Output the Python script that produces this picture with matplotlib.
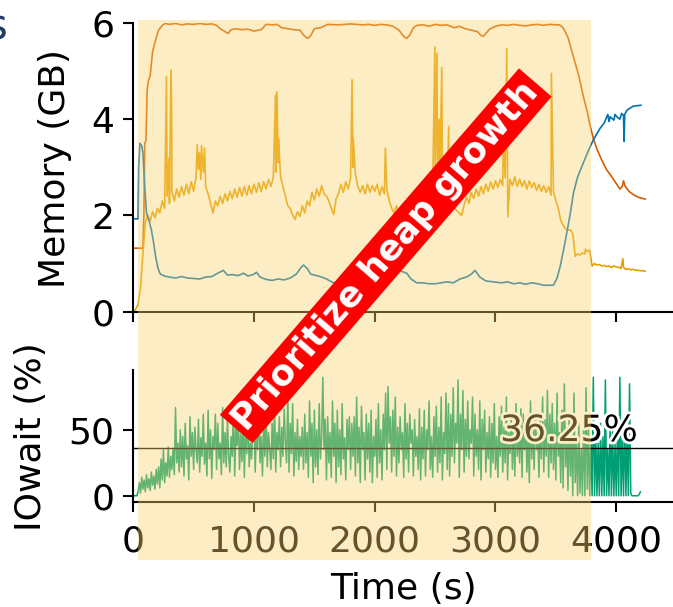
import numpy as np
import matplotlib
matplotlib.use("Agg")
import matplotlib.pyplot as plt
from matplotlib.patches import Rectangle
from matplotlib.transforms import blended_transform_factory
import matplotlib.patheffects as pe

# ---------------- data ----------------
# Total heap (vermillion)
heap_time = [0, 80, 88, 95, 105, 115, 125, 140, 160, 185, 210, 240, 265, 300, 350, 400, 450, 500,
             550, 600, 650, 690, 720, 760, 785, 810, 850, 900, 950, 1000, 1060, 1100, 1150, 1190,
             1230, 1280, 1330, 1380, 1420, 1447, 1470, 1500, 1550, 1610, 1700, 1800, 1900, 1950,
             2000, 2050, 2100, 2150, 2200, 2240, 2265, 2290, 2320, 2350, 2400, 2450, 2500, 2550,
             2600, 2660, 2700, 2750, 2800, 2850, 2880, 2898, 2920, 2950, 3000, 3050, 3100, 3150,
             3200, 3250, 3300, 3350, 3400, 3450, 3500, 3530, 3560, 3600, 3645, 3690, 3725, 3760,
             3785, 3810, 3840, 3880, 3920, 3950, 3990, 4030, 4050, 4060, 4075, 4100, 4115, 4150,
             4180, 4210, 4240]
heap_gb = [1.32, 1.32, 2.0, 3.5, 3.55, 4.6, 4.8, 4.9, 5.4, 5.65, 5.85, 5.95, 5.99, 5.97, 5.99, 5.96,
           5.98, 5.97, 5.99, 5.97, 5.98, 5.95, 5.88, 5.82, 5.78, 5.86, 5.88, 5.86, 5.87, 5.83, 5.86,
           5.97, 5.96, 5.97, 5.9, 5.88, 5.86, 5.85, 5.72, 5.68, 5.74, 5.88, 5.9, 5.97, 5.96, 5.98,
           5.96, 5.97, 5.95, 5.97, 5.96, 5.93, 5.85, 5.72, 5.68, 5.75, 5.9, 5.95, 5.96, 5.93, 5.97,
           5.95, 5.96, 5.9, 5.93, 5.88, 5.85, 5.82, 5.74, 5.72, 5.78, 5.87, 5.93, 5.96, 5.95, 5.97,
           5.95, 5.94, 5.96, 5.97, 5.95, 5.97, 5.96, 5.96, 5.9, 5.7, 5.3, 4.9, 4.5, 4.15, 3.85, 3.6,
           3.38, 3.15, 2.95, 2.85, 2.7, 2.55, 2.6, 2.72, 2.6, 2.52, 2.48, 2.42, 2.38, 2.36, 2.34]

# Cache / free memory (blue)
cache_time = [0, 40, 45, 55, 70, 80, 95, 110, 130, 150, 165, 185, 205, 225, 260, 300, 350, 400, 450,
              500, 550, 600, 650, 700, 745, 780, 820, 870, 914, 950, 1000, 1020, 1050, 1100, 1150,
              1200, 1250, 1300, 1350, 1390, 1410, 1440, 1470, 1520, 1560, 1600, 1657, 1700, 1750,
              1800, 1850, 1900, 1950, 2000, 2050, 2100, 2150, 2210, 2265, 2300, 2348, 2400, 2450,
              2500, 2550, 2596, 2650, 2706, 2760, 2800, 2830, 2870, 2920, 2980, 3050, 3100, 3150,
              3200, 3250, 3300, 3350, 3395, 3440, 3480, 3510, 3535, 3565, 3590, 3620, 3645, 3680,
              3725, 3770, 3810, 3840, 3866, 3900, 3930, 3940, 3950, 3980, 3990, 4005, 4030, 4045,
              4060, 4065, 4070, 4090, 4115, 4140, 4170, 4204]
cache_gb = [1.93, 1.93, 3.0, 3.5, 3.45, 3.3, 2.6, 2.05, 1.9, 1.7, 1.49, 1.15, 0.9, 0.78, 0.74, 0.72,
            0.7, 0.73, 0.7, 0.69, 0.68, 0.72, 0.73, 0.8, 0.86, 0.76, 0.77, 0.75, 0.8, 0.74, 0.78,
            0.82, 0.72, 0.67, 0.65, 0.68, 0.66, 0.7, 0.78, 0.92, 0.97, 0.9, 0.78, 0.75, 0.72, 0.68,
            0.6, 0.62, 0.62, 0.62, 0.66, 0.7, 0.65, 0.6, 0.62, 0.7, 0.78, 0.85, 0.8, 0.68, 0.6, 0.6,
            0.58, 0.58, 0.6, 0.62, 0.6, 0.68, 0.72, 0.78, 0.86, 0.72, 0.64, 0.62, 0.6, 0.62, 0.58,
            0.6, 0.57, 0.6, 0.58, 0.55, 0.55, 0.55, 0.7, 0.93, 1.3, 1.63, 2.05, 2.46, 2.8, 3.08,
            3.35, 3.57, 3.7, 3.81, 3.92, 4.1, 3.95, 4.05, 3.98, 4.1, 4.05, 4.0, 4.12, 4.08, 3.54,
            4.1, 4.19, 4.23, 4.27, 4.28, 4.29]

# Used memory (gold), sampled every 20 s
used_step = 20
used_gb = [
    0.0, 0.05, 0.15, 0.5, 1.2, 1.85, 2.0, 1.88, 2.08, 1.95,         # 0-180
    2.15, 2.05, 2.3, 2.15, 2.4, 2.25, 2.5, 2.3, 2.55, 2.38,         # 200-380
    2.6, 2.42, 2.65, 2.45, 2.7, 2.5, 2.8, 2.95, 2.75, 2.9,          # 400-580
    2.6, 2.45, 2.25, 2.05, 2.3, 2.2, 2.4, 2.25, 2.45, 2.3,          # 600-780
    2.5, 2.35, 2.55, 2.38, 2.58, 2.4, 2.6, 2.42, 2.62, 2.45,        # 800-980
    2.65, 2.48, 2.68, 2.5, 2.7, 2.55, 2.75, 2.6, 2.8, 2.9,          # 1000-1180
    3.1, 2.8, 2.6, 2.4, 2.2, 2.15, 2.0, 1.92, 2.08, 1.98,           # 1200-1380
    2.2, 2.05, 2.3, 2.2, 2.48, 2.32, 2.55, 2.4, 2.62, 2.45,         # 1400-1580
    2.4, 2.3, 2.15, 2.02, 2.35, 2.45, 2.65, 2.48, 2.7, 2.55,        # 1600-1780
    2.78, 3.0, 2.85, 2.6, 2.48, 2.62, 2.45, 2.65, 2.48, 2.62,       # 1800-1980
    2.5, 2.65, 2.42, 2.6, 2.45, 2.55, 2.3, 2.15, 2.05, 2.2,         # 2000-2180
    2.05, 2.15, 1.98, 2.15, 2.2, 2.38, 2.25, 2.45, 2.32, 2.5,       # 2200-2380
    2.4, 2.6, 2.45, 2.65, 2.55, 2.75, 2.9, 2.78, 2.95, 2.7,         # 2400-2580
    2.5, 2.35, 2.25, 2.15, 2.1, 2.05, 2.0, 2.22, 2.38, 2.25,        # 2600-2780
    2.48, 2.35, 2.55, 2.4, 2.6, 2.45, 2.65, 2.5, 2.7, 2.55,         # 2800-2980
    2.72, 2.58, 2.75, 2.62, 2.78, 2.6, 2.75, 2.62, 2.8, 2.6,        # 3000-3180
    2.75, 2.6, 2.72, 2.55, 2.72, 2.58, 2.68, 2.52, 2.65, 2.5,       # 3200-3380
    2.62, 2.48, 2.6, 2.42, 2.5, 2.3, 2.15, 1.9, 1.8, 1.72,          # 3400-3580
    1.7, 1.7, 1.62, 1.15, 1.2, 1.18, 1.22, 1.2, 1.25, 1.28,         # 3600-3780
    0.95, 1.0, 0.97, 0.98, 0.95, 0.96, 0.94, 0.95, 0.92, 0.95,      # 3800-3980
    0.93, 0.92, 0.9, 0.92, 0.88, 0.89, 0.87, 0.88, 0.86, 0.86,      # 4000-4180
    0.85, 0.85, 0.84,                                               # 4200-4240
]
used_spike_time = [275, 297, 312, 318, 530, 548, 565, 590, 1178, 1190, 1203, 1812, 1822, 2088,
                   2498, 2515, 2533, 2555, 2612, 3065, 3093, 3102, 3463, 3745, 4055]
used_spike_gb = [4.88, 3.2, 5.02, 4.3, 3.47, 3.3, 3.45, 3.4, 4.5, 4.57, 3.6, 4.82, 3.6, 3.4,
                 5.5, 5.37, 4.0, 5.07, 3.85, 3.64, 5.47, 1.97, 4.95, 1.3, 1.1]

# IOwait (%) sampled every 10 s
iowait_step = 10
iowait_pct = [
    0, 0, 0, 0, 3, 10, 2, 14, 5, 12, 3, 16, 6, 13, 4, 18, 8, 15, 5, 20,            # 0-190
    9, 22, 6, 28, 12, 35, 10, 25, 15, 37, 14, 30, 20, 36, 16, 67, 25, 40, 18, 50,    # 200-390
    22, 45, 15, 55, 28, 38, 12, 60, 30, 48, 20, 52, 35, 25, 58, 18, 44, 30, 62, 24,  # 400-590
    40, 15, 65, 28, 50, 13, 45, 35, 62, 20, 55, 28, 40, 16, 67, 25, 48, 22, 58, 30,  # 600-790
    18, 45, 30, 70, 15, 52, 38, 64, 20, 47, 26, 60, 14, 55, 32, 68, 22, 40, 28, 50,  # 800-990
    62, 18, 50, 35, 72, 25, 45, 15, 58, 30, 64, 22, 48, 36, 20, 55, 28, 70, 18, 48,  # 1000-1190
    35, 60, 22, 52, 30, 66, 40, 25, 78, 18, 55, 32, 70, 15, 48, 26, 58, 20, 45, 30,  # 1200-1390
    52, 20, 62, 25, 48, 14, 72, 30, 55, 10, 65, 22, 50, 16, 70, 28, 44, 90, 35, 58,  # 1400-1590
    12, 60, 25, 48, 14, 72, 30, 55, 10, 65, 22, 50, 16, 70, 28, 44, 12, 58, 35, 60,  # 1600-1790
    20, 55, 30, 60, 15, 75, 25, 52, 10, 68, 35, 48, 12, 62, 28, 55, 18, 65, 10, 45,  # 1800-1990
    30, 58, 14, 70, 25, 50, 12, 62, 35, 78, 20, 83, 40, 60, 18, 65, 30, 75, 15, 52,  # 2000-2190
    25, 60, 35, 48, 14, 70, 28, 55, 18, 62, 40, 50, 15, 58, 30, 45, 20, 66, 12, 52,  # 2200-2390
    28, 65, 15, 50, 35, 72, 20, 45, 14, 60, 30, 68, 18, 52, 25, 75, 12, 48, 32, 78,  # 2400-2590
    20, 70, 15, 62, 30, 82, 25, 55, 40, 88, 14, 62, 35, 80, 18, 58, 30, 72, 28, 50,  # 2600-2790
    40, 75, 15, 62, 30, 50, 20, 72, 12, 58, 35, 65, 18, 48, 28, 60, 14, 55, 25, 70,  # 2800-2990
    20, 45, 14, 60, 30, 68, 18, 52, 25, 75, 12, 48, 32, 62, 20, 55, 15, 70, 30, 48,  # 3000-3190
    25, 66, 14, 62, 35, 58, 18, 50, 10, 72, 28, 55, 20, 62, 35, 48, 14, 60, 28, 75,  # 3200-3390
    18, 58, 30, 80, 14, 62, 25, 70, 20, 55, 12, 78, 30, 48, 10, 65, 6, 85, 22, 50,   # 3400-3590
    4, 60, 15, 45, 0, 78, 10, 40, 0, 55, 2, 35, 0, 60, 0, 82, 5, 50, 0, 45,          # 3600-3790
    0, 90, 0, 50, 0, 40, 0, 55, 0, 45, 0, 88, 0, 35, 0, 60, 0, 50, 0, 40,           # 3800-3990
    0, 55, 0, 90, 0, 45, 0, 60, 0, 50, 0, 85, 2, 0, 0, 0, 0, 0, 0, 1,               # 4000-4190
    3,                                                                              # 4200
]
iowait_mean = 36.25

mem_yticks = [0, 2, 4, 6]
io_yticks = [0, 50]
time_ticks = [0, 1000, 2000, 3000, 4000]
phase_start, phase_end = 36, 3790
banner_text = "Prioritize heap growth"

# ---------------- style ----------------
plt.rcParams["font.family"] = ["DejaVu Sans"]
plt.rcParams["font.size"] = 26

C_HEAP = "#D55E00"
C_USED = "#E69F00"
C_CACHE = "#0072B2"
C_IO = "#009E73"

fig = plt.figure(figsize=(6.73, 6.07), dpi=100)
ax1 = fig.add_axes([0.198, 0.4865, 0.802, 0.4757])
ax2 = fig.add_axes([0.198, 0.1735, 0.802, 0.2169])

# top panel
used_time = np.arange(len(used_gb)) * used_step
ut = np.concatenate([used_time, used_spike_time])
uv = np.concatenate([used_gb, used_spike_gb])
order = np.argsort(ut, kind="stable")
ax1.plot(heap_time, heap_gb, color=C_HEAP, lw=1.2)
ax1.plot(ut[order], uv[order], color=C_USED, lw=1.2)
ax1.plot(cache_time, cache_gb, color=C_CACHE, lw=1.2)
ax1.set_ylim(0, 6.0)
ax1.set_xlim(0, 4470)
ax1.set_yticks(mem_yticks)
ax1.set_xticks(time_ticks)
ax1.set_xticklabels([])
ax1.set_ylabel("Memory (GB)")

# bottom panel
io_time = np.arange(len(iowait_pct)) * iowait_step
ax2.plot(io_time, iowait_pct, color=C_IO, lw=1.1)
ax2.axhline(iowait_mean, color="black", lw=1.0)
ax2.text(io_time[-1] - 20, iowait_mean, f"{iowait_mean:.2f}%", ha="right", va="bottom",
         fontsize=26, color="black",
         path_effects=[pe.withStroke(linewidth=4, foreground="white")])
ax2.set_ylim(-4.5, 95.5)
ax2.set_xlim(0, 4470)
ax2.set_yticks(io_yticks)
ax2.set_xticks(time_ticks)
ax2.set_ylabel("IOwait (%)")
ax2.set_xlabel("Time (s)")

for ax in (ax1, ax2):
    for s in ("top", "right"):
        ax.spines[s].set_visible(False)
    for s in ("left", "bottom"):
        ax.spines[s].set_linewidth(1.5)
    ax.tick_params(axis="both", width=1.5, length=7.5)
    ax.tick_params(axis="y", pad=6)
    ax.tick_params(axis="x", pad=9)

ax1.yaxis.set_label_coords(0.0817, 0.722, transform=fig.transFigure)
ax1.yaxis.label.set_verticalalignment("center")
ax2.yaxis.set_label_coords(0.0455, 0.281, transform=fig.transFigure)
ax2.yaxis.label.set_verticalalignment("center")
ax2.xaxis.set_label_coords(0.599, 0.029, transform=fig.transFigure)
ax2.xaxis.label.set_verticalalignment("center")

# shaded phase overlay (on top of everything in the panel)
trans = blended_transform_factory(ax1.transData, fig.transFigure)
fig.add_artist(Rectangle((phase_start, 0.0774), phase_end - phase_start, 0.967 - 0.0774,
                         transform=trans, facecolor="#F9D36F", alpha=0.4,
                         edgecolor="none", zorder=5))

# banner
fig.text(0.5732, 0.5787, banner_text, rotation=49.2, rotation_mode="anchor",
         ha="center", va="center", color="white", fontsize=25.5, fontweight="bold",
         bbox=dict(boxstyle="square,pad=0.13", facecolor="#FF0000", edgecolor="none"),
         zorder=10)

# clipped label fragment at top-left
fig.text(7 / 673, 1 - 27 / 607, "s", ha="right", va="center", fontsize=30,
         color="#1f3b63", zorder=10)

fig.savefig("out.png", dpi=100)
